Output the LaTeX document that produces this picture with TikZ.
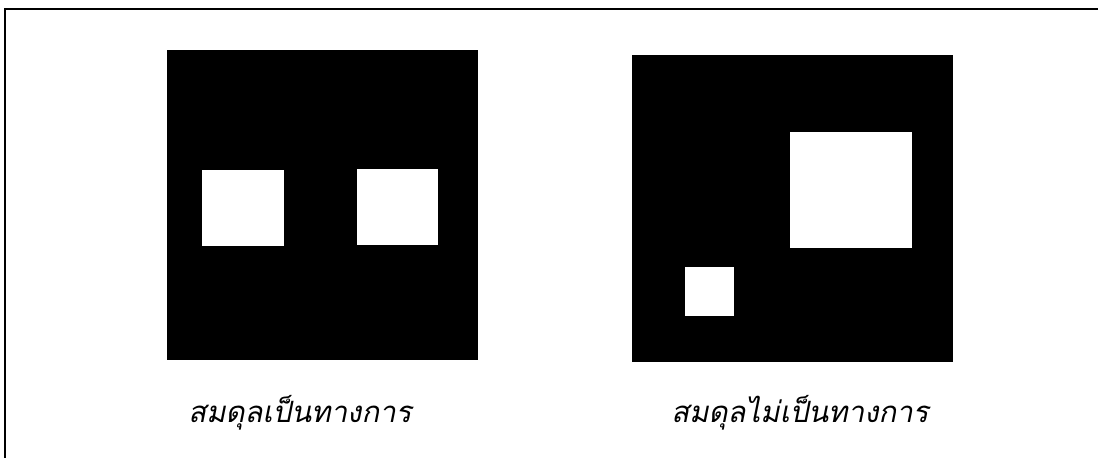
\documentclass[tikz,border=0pt]{standalone}
\usepackage{fontspec}
\newfontfamily\thaifont[Script=Thai,FakeSlant=0.2]{Loma}
\tikzset{
  frameline/.style={draw=black,line width=1.4pt},
  plate/.style={fill=black},
  hole/.style={fill=white},
  caption/.style={font=\thaifont\fontsize{22}{26}\selectfont,text=black}
}
\begin{document}
\begin{tikzpicture}[x=0.75pt,y=-0.75pt]
\useasboundingbox (0,0) rectangle (1098,458);
% frame, top and left side only
\draw[frameline] (1098,9) -- (5,9) -- (5,458);
% formal balance
\fill[plate] (167,50) rectangle (478,360);
\fill[hole] (202,170) rectangle (284,246);
\fill[hole] (357,169) rectangle (438,245);
\node[caption] (formal) at (300,413) {สมดุลเป็นทางการ};
% informal balance
\fill[plate] (632,55) rectangle (953,362);
\fill[hole] (790,132) rectangle (912,248);
\fill[hole] (685,267) rectangle (734,316);
\node[caption] (informal) at (800,413) {สมดุลไม่เป็นทางการ};
\end{tikzpicture}
\end{document}
